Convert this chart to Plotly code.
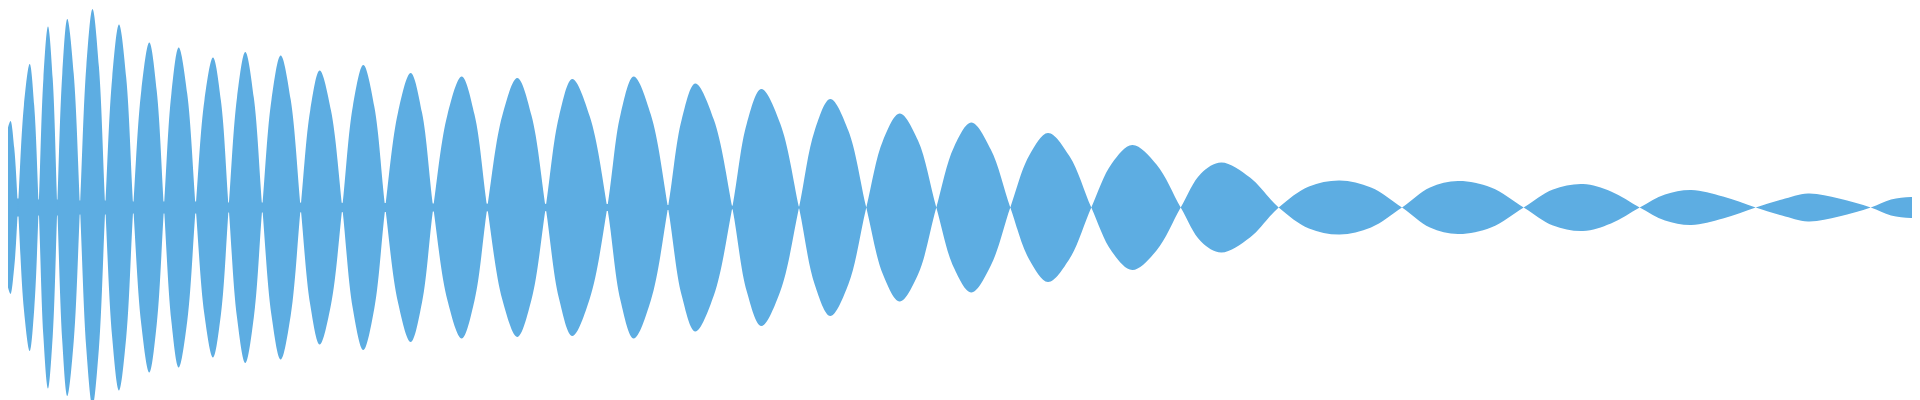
import plotly.graph_objects as go

# Waveform outline: for every lobe the zero crossing,
# the half-way rise, the peak and the half-way fall (signed amplitude, lobes alternate)
time = [0, 2.5, 6.2,
        10, 15.9, 21.7, 26.2,
        30.7, 35.4, 40, 44.7,
        49.3, 54.3, 59.3, 65.7,
        72, 78.3, 84.5, 90.9,
        97.3, 104.2, 111, 118.2,
        125.3, 133.3, 141.3, 148.7,
        156, 163.4, 170.7, 179.2,
        187.7, 196.4, 205, 212.9,
        220.7, 229, 237.3, 245.8,
        254.3, 263.5, 272.7, 282.7,
        292.7, 302.2, 311.7, 323,
        334.3, 344.8, 355.3, 366.3,
        377.3, 390, 402.7, 414,
        425.3, 439.5, 453.7, 466.5,
        479.3, 494.3, 509.3, 523.5,
        537.7, 551, 564.3, 581.8,
        599.3, 612.5, 625.7, 642.8,
        660, 673.7, 687.3, 705.8,
        724.3, 738.8, 753.3, 772.2,
        791, 806.7, 822.3, 840.3,
        858.3, 875, 891.7, 910,
        928.3, 945.8, 963.3, 982.8,
        1002.3, 1021.2, 1040, 1061.7,
        1083.3, 1103.8, 1124.3, 1148.5,
        1172.7, 1193, 1213.3, 1242,
        1270.7, 1301, 1331.7, 1363,
        1394, 1422, 1450, 1483,
        1515.7, 1545, 1575, 1603,
        1631.7, 1657, 1683.3, 1715,
        1747.7, 1774, 1800, 1831,
        1862.7, 1883, 1903, 1920]
signal = [80, 86.5, 60,
          0, -102, -143.5, -102,
          0, 129, 181, 129,
          0, -134, -188.5, -134,
          0, 141, 198.5, 141,
          0, -130, -183, -130,
          0, 117, 165, 117,
          0, -114, -160, -114,
          0, 107, 150, 107,
          0, -110, -155.5, -110,
          0, 108, 152, 108,
          0, -97, -137, -97,
          0, 101, 142.5, 101,
          0, -95, -134.5, -95,
          0, 93, 131, 93,
          0, -92, -129.5, -92,
          0, 91, 128.5, 91,
          0, -93, -131, -93,
          0, 88, 124, 88,
          0, -84, -118.5, -84,
          0, 77, 108.5, 77,
          0, -67, -94, -67,
          0, 60, 85, 58,
          0, -52, -74.5, -51,
          0, 44, 62.5, 43,
          0, -34, -45, -30,
          0, 21, 27, 20,
          0, -20, -26.5, -20,
          0, 18, 23.5, 16,
          0, -13, -17.5, -11,
          0, 8, 14, 9,
          0, -8, -10.5, -10.5]

# Residual level at the zero crossings (the waveform bins never quite reach zero)
floor_time = [0, 10, 30.7, 49.3, 72, 97.3, 125.3, 156, 187.7, 220.7, 254.3,
              292.7, 334.3, 377.3, 425.3, 479.3, 537.7, 599.3, 660, 724.3,
              791, 858.3]
floor_level = [9, 9, 8, 8, 7, 7, 6, 6, 6, 5, 5, 5, 4.5, 4.5, 4, 4, 3.5, 3.5,
               2.5, 2, 1, 0]

COLOR = "#5DADE2"

fig = go.Figure()
fig.add_trace(go.Scatter(x=floor_time, y=[-v for v in floor_level], mode="lines",
                         line=dict(width=0, color=COLOR), hoverinfo="skip"))
fig.add_trace(go.Scatter(x=floor_time, y=floor_level, mode="lines", fill="tonexty",
                         fillcolor=COLOR, line=dict(width=0, color=COLOR),
                         hoverinfo="skip"))
fig.add_trace(go.Scatter(x=time, y=[-v for v in signal], mode="lines",
                         line=dict(width=0, color=COLOR, shape="spline"),
                         hoverinfo="skip"))
fig.add_trace(go.Scatter(x=time, y=signal, mode="lines", fill="tonexty",
                         fillcolor=COLOR, line=dict(width=0, color=COLOR, shape="spline"),
                         hoverinfo="skip"))

fig.update_layout(
    width=1920, height=400,
    margin=dict(l=0, r=0, t=0, b=0),
    paper_bgcolor="white", plot_bgcolor="white",
    showlegend=False,
    xaxis=dict(range=[0, 1920], visible=False, fixedrange=True),
    yaxis=dict(range=[-200.5, 199.5], visible=False, fixedrange=True),
)
fig.write_html("out.html")
